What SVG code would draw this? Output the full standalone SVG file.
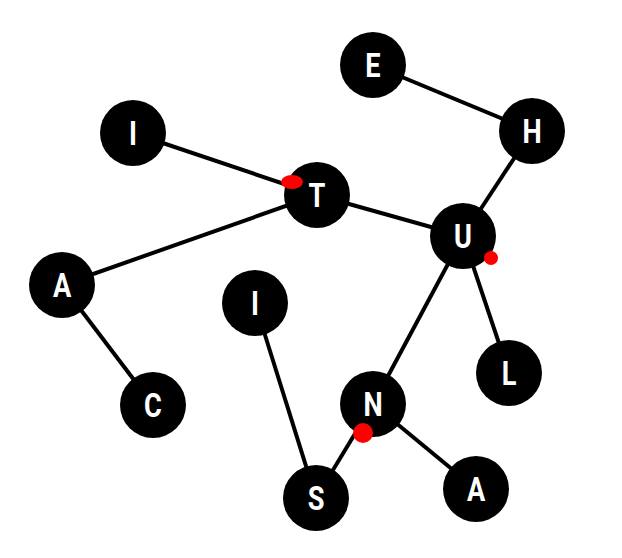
<svg xmlns="http://www.w3.org/2000/svg" width="622" height="558" viewBox="0 0 622 558">
<style>
.e{stroke:#000;stroke-width:4;fill:none}
.n circle{fill:#000}
.n text{fill:#fff;font-family:Roboto,"Liberation Sans",sans-serif;font-weight:bold;font-size:34px;text-anchor:middle}
.r{fill:#f00}
</style>
<rect width="622" height="558" fill="#fff"/>
<g id="edges">
<line class="e" x1="373" y1="65" x2="532" y2="131"/>
<line class="e" x1="532" y1="131" x2="463" y2="236"/>
<line class="e" x1="133" y1="133" x2="317" y2="195"/>
<line class="e" x1="317" y1="195" x2="62" y2="285"/>
<line class="e" x1="317" y1="195" x2="463" y2="236"/>
<line class="e" x1="62" y1="285" x2="153" y2="405"/>
<line class="e" x1="463" y1="236" x2="373" y2="404"/>
<line class="e" x1="463" y1="236" x2="509" y2="373"/>
<line class="e" x1="373" y1="404" x2="316" y2="498"/>
<line class="e" x1="373" y1="404" x2="476" y2="489"/>
<line class="e" x1="255" y1="303" x2="316" y2="498"/>
</g>
<g id="E" class="n"><circle cx="373" cy="65" r="33"/><text transform="translate(373,77) scale(0.8,1)">E</text></g>
<g id="H" class="n"><circle cx="532" cy="131" r="33"/><text transform="translate(532,143) scale(0.8,1)">H</text></g>
<g id="I1" class="n"><circle cx="133" cy="133" r="33"/><text transform="translate(133,145) scale(0.8,1)">I</text></g>
<g id="T" class="n"><circle cx="317" cy="195" r="33"/><text transform="translate(317,207) scale(0.8,1)">T</text></g>
<g id="U" class="n"><circle cx="463" cy="236" r="33"/><text transform="translate(463,248) scale(0.8,1)">U</text></g>
<g id="A1" class="n"><circle cx="62" cy="285" r="33"/><text transform="translate(62,297) scale(0.8,1)">A</text></g>
<g id="I2" class="n"><circle cx="255" cy="303" r="33"/><text transform="translate(255,315) scale(0.8,1)">I</text></g>
<g id="L" class="n"><circle cx="509" cy="373" r="33"/><text transform="translate(509,385) scale(0.8,1)">L</text></g>
<g id="C" class="n"><circle cx="153" cy="405" r="33"/><text transform="translate(153,417) scale(0.8,1)">C</text></g>
<g id="N" class="n"><circle cx="373" cy="404" r="33"/><text transform="translate(373,416) scale(0.8,1)">N</text></g>
<g id="S" class="n"><circle cx="316" cy="498" r="33"/><text transform="translate(316,510) scale(0.8,1)">S</text></g>
<g id="A2" class="n"><circle cx="476" cy="489" r="33"/><text transform="translate(476,501) scale(0.8,1)">A</text></g>
<g id="markers">
<ellipse class="r" cx="292" cy="182" rx="11" ry="7"/>
<circle class="r" cx="491" cy="258" r="7"/>
<circle class="r" cx="363" cy="433" r="10"/>
</g>
</svg>
